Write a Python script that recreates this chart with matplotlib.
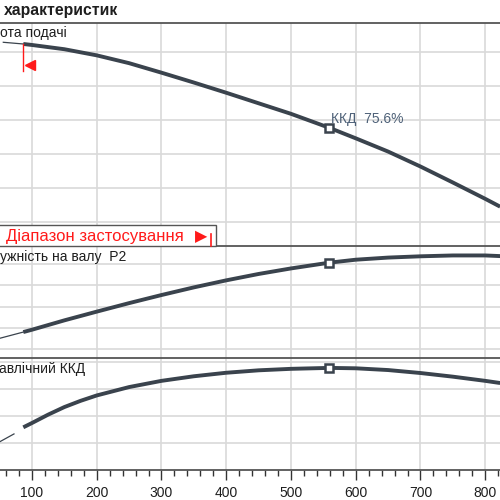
import matplotlib
matplotlib.use("Agg")
import matplotlib.pyplot as plt
from matplotlib.lines import Line2D
from matplotlib.patches import Rectangle
from matplotlib.ticker import MultipleLocator
import numpy as np

plt.rcParams['font.family'] = ['Liberation Sans', 'DejaVu Sans']

# ---------------- data ----------------
q_head = [55.7, 86.6, 100, 150, 200, 250, 300, 350, 400, 450, 500, 559,
          600, 650, 700, 750, 800, 823]
head = [62.94, 62.44, 62.15, 60.9, 59.1, 56.8, 54.0, 51.1, 48.1, 45.0, 41.9, 37.8,
        34.7, 30.8, 26.4, 21.7, 16.9, 14.6]

q_power = [50.6, 86.6, 100, 150, 200, 250, 300, 350, 400, 450, 500, 559,
           600, 650, 700, 750, 800, 823]
power = [1.52, 1.81, 1.92, 2.36, 2.77, 3.17, 3.55, 3.91, 4.24, 4.54, 4.80, 5.07,
         5.21, 5.31, 5.37, 5.41, 5.41, 5.38]

q_eff_low = [50.6, 72.2]
eff_low = [21.0, 26.7]
q_eff = [86.6, 100, 125, 150, 175, 200, 250, 300, 350, 400, 450, 500, 559,
         600, 650, 700, 750, 800, 823]
eff = [31.6, 34.8, 41.0, 46.6, 51.2, 55.2, 61.4, 66.0, 69.4, 72.0, 73.8, 74.9, 75.6,
       75.3, 74.0, 71.8, 69.1, 66.0, 64.4]

q_min = 86.6          # start of application range
q_duty = 559          # duty point
eff_duty = 75.6

x_ticks = [100, 200, 300, 400, 500, 600, 700, 800]
head_grid = [10, 20, 30, 40, 50, 60]
power_grid = [1, 2, 3, 4, 5]
eff_grid = [20, 40, 60, 80]

title = "характеристик"
lbl_head = "ота подачі"
lbl_power = "ужність на валу  P2"
lbl_eff = "авлічний ККД"
lbl_range = "Діапазон застосування"
lbl_range_arrow = "▶"
lbl_duty = f"ККД  {eff_duty}%"

# ---------------- styling ----------------
W = H = 500
CURVE = "#3a434d"
GRID = "#d9d9d9"
BORDER = "#555555"
RED = "#ff1a1a"
TXT = "#1e1e1e"
XLIM = (50.6, 822.8)


def fy(py):
    return 1 - py / H


def fx(px):
    return px / W


fig = plt.figure(figsize=(5, 5), dpi=100)
fig.patch.set_facecolor("white")

panels = [(22.7, 246.3, (2.94, 68.7), head_grid),
          (246.3, 358.3, (0.577, 5.84), power_grid),
          (358.3, 470.0, (0.0, 82.7), eff_grid)]
axes = []
for top, bot, ylim, grid in panels:
    ax = fig.add_axes([0, fy(bot), 1, (bot - top) / H])
    ax.set_xlim(*XLIM)
    ax.set_ylim(*ylim)
    ax.set_xticks(x_ticks)
    ax.set_yticks(grid)
    ax.grid(True, color=GRID, lw=1.2)
    ax.set_axisbelow(True)
    for s in ["left", "right", "bottom"]:
        ax.spines[s].set_visible(False)
    ax.spines["top"].set_color(BORDER)
    ax.spines["top"].set_linewidth(1.3)
    ax.tick_params(axis="both", length=0, labelleft=False, labelbottom=False)
    axes.append(ax)

ax1, ax2, ax3 = axes

# bottom axis
ax3.spines["bottom"].set_visible(True)
ax3.spines["bottom"].set_color(BORDER)
ax3.spines["bottom"].set_linewidth(1.3)
ax3.xaxis.set_minor_locator(MultipleLocator(20))
ax3.tick_params(axis="x", which="major", length=7.5, width=1.0, color="#333333",
                labelbottom=True, labelsize=10, pad=4, labelcolor=TXT)
ax3.tick_params(axis="x", which="minor", length=4.5, width=1.0, color="#333333")

# ---------------- curves ----------------
thick = dict(color=CURVE, lw=2.8, solid_capstyle="butt", solid_joinstyle="round")
thin = dict(color=CURVE, lw=0.9)

qh = np.array(q_head)
hh = np.array(head)
ax1.plot(qh[qh <= q_min], hh[qh <= q_min], **thin)
ax1.plot(qh[qh >= q_min], hh[qh >= q_min], **thick)

qp = np.array(q_power)
pp = np.array(power)
ax2.plot(qp[qp <= q_min], pp[qp <= q_min], **thin)
ax2.plot(qp[qp >= q_min], pp[qp >= q_min], **thick)

ax3.plot(q_eff_low, eff_low, **thin)
ax3.plot(q_eff, eff, **thick)

# duty point markers
for ax, xs, ys in [(ax1, q_head, head), (ax2, q_power, power), (ax3, q_eff, eff)]:
    ax.plot([q_duty], [np.interp(q_duty, xs, ys)], marker="s", ms=5.5,
            mfc="white", mec=CURVE, mew=1.8, zorder=5)

# application range start marker (red)
h_at_min = np.interp(q_min, q_head, head)
ax1.plot([q_min, q_min], [h_at_min, h_at_min - 7.8], color=RED, lw=1.0)
ax1.plot([q_min + 10.3], [h_at_min - 6.3], marker="<", ms=7.8, color=RED, mec=RED)

# duty label
fig.text(fx(331), fy(123.5), lbl_duty, fontsize=10, color="#4e6178", va="baseline")

# ---------------- texts ----------------
fig.text(fx(3.5), fy(14.5), title, fontsize=11.3, fontweight="bold", color=TXT,
         va="baseline")
fig.text(fx(-0.5), fy(36.7), lbl_head, fontsize=10, color=TXT, va="baseline")
fig.text(fx(-0.5), fy(261), lbl_power, fontsize=10, color=TXT, va="baseline")
fig.text(fx(-1), fy(372.5), lbl_eff, fontsize=10, color=TXT, va="baseline")

# application range box
fig.add_artist(Rectangle((fx(-5), fy(246.3)), fx(221), (246.3 - 225) / H,
                         transform=fig.transFigure, facecolor="white",
                         edgecolor=BORDER, lw=1.0, zorder=3))
fig.text(fx(6.5), fy(240.5), lbl_range, fontsize=12, color=RED, va="baseline",
         zorder=4)
fig.text(fx(195), fy(241), lbl_range_arrow, fontsize=11.5, color=RED,
         va="baseline", family="DejaVu Sans", zorder=4)
fig.add_artist(Line2D([fx(210.7), fx(210.7)], [fy(234), fy(246)],
                      transform=fig.transFigure, color=RED, lw=1.2, zorder=4))

fig.savefig("out.png", dpi=100, facecolor="white")
